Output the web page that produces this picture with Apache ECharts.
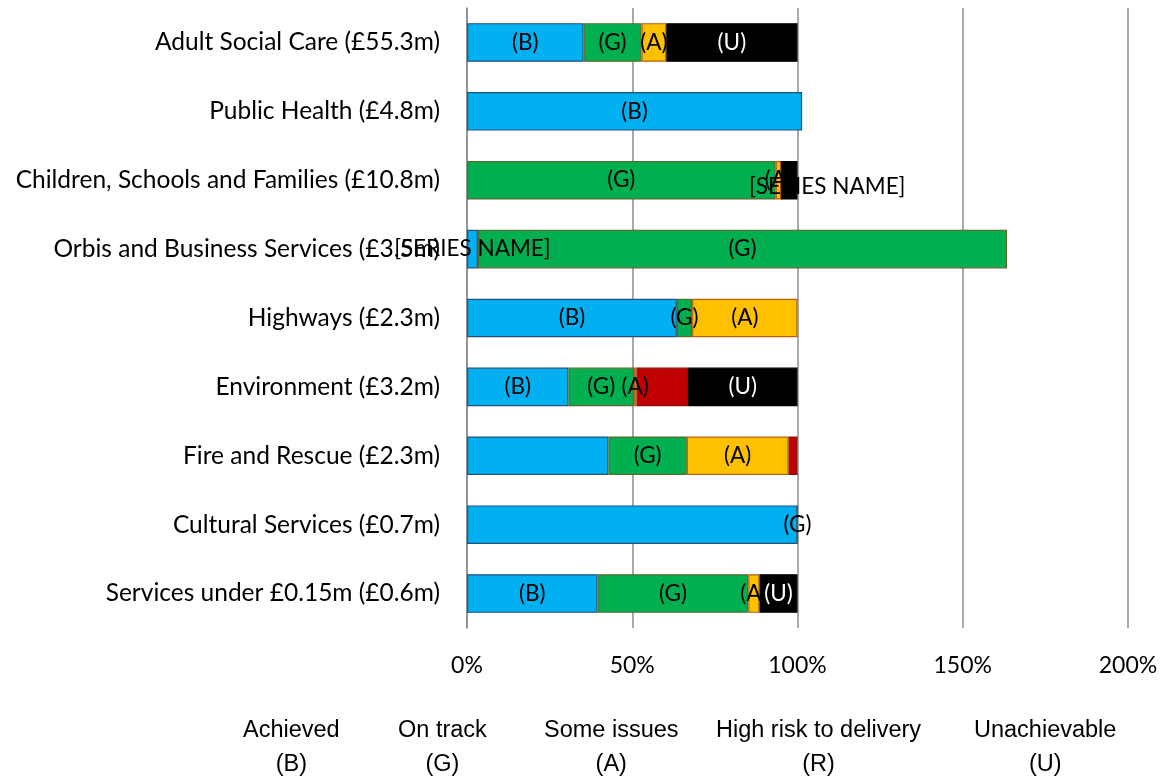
<!DOCTYPE html>
<html lang="en">
<head>
    <meta charset="UTF-8">
    <title>Savings delivery by service</title>
    <script src="https://cdn.jsdelivr.net/npm/echarts@6/dist/echarts.min.js"></script>
    <style>
        html, body { margin: 0; padding: 0; background: #fff; }
        #main { width: 1166px; height: 778px; }
    </style>
</head>
<body>
<div id="main"></div>
<script>
    // services, top to bottom
    var services = [
        'Adult Social Care (£55.3m)',
        'Public Health (£4.8m)',
        'Children, Schools and Families (£10.8m)',
        'Orbis and Business Services (£3.5m)',
        'Highways (£2.3m)',
        'Environment (£3.2m)',
        'Fire and Rescue (£2.3m)',
        'Cultural Services (£0.7m)',
        'Services under £0.15m (£0.6m)'
    ];

    // % of savings target per RAG status
    var achievedB    = [35.3, 101.4, 0,    3.3,   63.5, 30.7, 42.8, 100, 39.5];
    var onTrackG     = [17.5, 0,     93.4, 160.1, 4.6,  19.8, 23.7, 0,   45.6];
    var someIssuesA  = [7.5,  0,     1.7,  0,     31.9, 0.8,  30.8, 0,   3.4];
    var highRiskR    = [0,    0,     0,    0,     0,    15.6, 2.7,  0,   0];
    var unachievable = [39.7, 0,     4.9,  0,     0,    33.1, 0,    0,   11.5];

    // data labels as they appear on the bars
    var labelsB = ['(B)', '(B)', '', '[SERIES NAME]', '(B)', '(B)', '', '', '(B)'];
    var labelsG = ['(G)', '', '(G)', '(G)', '(G)', '(G)', '(G)', '(G)', '(G)'];
    var labelsA = ['(A)', '', '(A)', '', '(A)', '(A)', '(A)', '', '(A)'];
    var labelsR = ['', '', '[SERIES NAME]', '', '', '', '', '', ''];
    var labelsU = ['(U)', '', '', '', '', '(U)', '', '', '(U)'];

    var statusNames = ['Achieved', 'On track', 'Some issues', 'High risk to delivery', 'Unachievable'];
    var statusCodes = ['(B)', '(G)', '(A)', '(R)', '(U)'];
    var xTicks = [0, 50, 100, 150, 200];

    var fills   = ['#00b0f0', '#00b050', '#ffc000', '#c00000', '#000000'];
    var borders = ['#24527a', '#5a6b2c', '#b8620f', '#8a1010', '#000000'];
    var labelFont = 'Lato';

    function buildData(values, labels, s) {
        return values.map(function (v, i) {
            var item = {
                value: (v === 0 && !labels[i]) ? '-' : v,
                label: { show: !!labels[i], formatter: labels[i] || '' }
            };
            // the stray label on Children, Schools and Families sits right of the bar
            if (s === 3 && i === 2) {
                item.label.offset = [46, 7];
            }
            return item;
        });
    }

    var allValues = [achievedB, onTrackG, someIssuesA, highRiskR, unachievable];
    var allLabels = [labelsB, labelsG, labelsA, labelsR, labelsU];

    var series = statusNames.map(function (name, s) {
        return {
            name: name,
            type: 'bar',
            stack: 'total',
            z: s === 4 ? 3 : 2,
            barCategoryGap: '44%',
            itemStyle: { color: fills[s], borderColor: borders[s], borderWidth: 1.2 },
            label: {
                position: 'inside',
                color: s === 4 ? '#ffffff' : '#000000',
                fontFamily: labelFont,
                fontSize: 22.5
            },
            emphasis: { disabled: true },
            data: buildData(allValues[s], allLabels[s], s)
        };
    });

    var legendLeft = [237, 392, 538, 710, 968];
    var legends = statusNames.map(function (name, s) {
        return {
            data: [name],
            left: legendLeft[s],
            top: 719,
            padding: 0,
            itemWidth: 0,
            itemHeight: 0,
            icon: 'rect',
            selectedMode: false,
            formatter: function (n) {
                return '{t|' + n + '}\n{t|' + statusCodes[s] + '}';
            },
            textStyle: {
                rich: {
                    t: {
                        align: 'center',
                        fontFamily: 'Liberation Sans',
                        fontSize: 23.5,
                        lineHeight: 34,
                        color: '#000'
                    }
                }
            }
        };
    });

    var chart = echarts.init(document.getElementById('main'));
    chart.setOption({
        backgroundColor: '#ffffff',
        animation: false,
        legend: legends,
        grid: { left: 467, right: 38, top: 8, bottom: 150 },
        xAxis: {
            type: 'value',
            min: xTicks[0],
            max: xTicks[xTicks.length - 1],
            interval: xTicks[1] - xTicks[0],
            axisLine: { show: false },
            axisTick: { show: false },
            splitLine: { lineStyle: { color: '#8c8c8c', width: 1.5 } },
            axisLabel: {
                formatter: '{value}%',
                margin: 26,
                color: '#000',
                fontFamily: labelFont,
                fontSize: 23
            }
        },
        yAxis: {
            type: 'category',
            inverse: true,
            data: services,
            axisLine: { lineStyle: { color: '#8c8c8c', width: 1.5 } },
            axisTick: { length: 7, lineStyle: { color: '#8c8c8c', width: 1.5 } },
            axisLabel: {
                margin: 27,
                color: '#000',
                fontFamily: labelFont,
                fontSize: 24.5
            }
        },
        series: series
    });
</script>
</body>
</html>
